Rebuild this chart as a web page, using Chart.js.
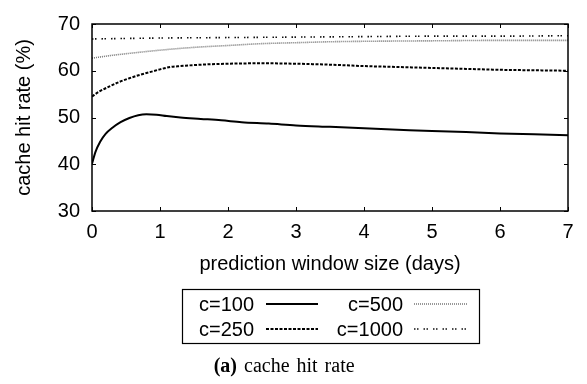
<!DOCTYPE html>
<html><head><meta charset="utf-8">
<script src="https://cdn.jsdelivr.net/npm/chart.js@4.4.1/dist/chart.umd.min.js"></script>
<style>
html,body{margin:0;padding:0;background:#fff;}
#wrap{position:relative;width:587px;height:384px;}
canvas{position:absolute;left:0;top:0;}
</style></head>
<body><div id="wrap"><canvas id="c" width="587" height="384"></canvas></div>
<script>
const xTicks = [0,1,2,3,4,5,6,7];
const yTicks = [30,40,50,60,70];
const labels = ["c=100","c=250","c=500","c=1000"];
const c100 = [[0,40.1],[0.05,42.6],[0.12,44.8],[0.2,46.5],[0.3,47.8],[0.42,49],[0.55,49.9],[0.68,50.5],[0.8,50.7],[0.95,50.6],[1.1,50.3],[1.3,50.0],[1.6,49.7],[1.9,49.4],[2.2,49.0],[2.6,48.7],[3.0,48.3],[3.5,48.0],[4.0,47.7],[4.5,47.4],[5.0,47.1],[5.5,46.9],[6.0,46.6],[6.5,46.4],[7.0,46.2]];
const c250 = [[0,54.5],[0.1,55.5],[0.25,56.6],[0.4,57.6],[0.55,58.4],[0.7,59.1],[0.85,59.7],[1.0,60.3],[1.15,60.8],[1.3,61.0],[1.6,61.3],[2.0,61.5],[2.5,61.6],[3.0,61.5],[3.5,61.3],[4.0,61.0],[4.5,60.8],[5.0,60.6],[5.5,60.4],[6.0,60.2],[6.5,60.1],[7.0,60.0]];
const c500 = [[0,62.7],[0.3,63.3],[0.6,63.8],[1.0,64.4],[1.5,65.0],[2.0,65.4],[2.5,65.8],[3.0,66.0],[3.5,66.2],[4.0,66.3],[5.0,66.4],[6.0,66.5],[7.0,66.5]];
const c1000 = [[0,66.8],[1.0,67.0],[2.0,67.1],[3.0,67.2],[4.0,67.3],[5.0,67.4],[6.0,67.4],[7.0,67.5]];
const seriesData = [c100,c250,c500,c1000];
const caption = ["(a)", "cache", "hit", "rate"];
const styles = [
  {color:'#000', width:2, dash:[]},
  {color:'#000', width:2, dash:[3,1.5]},
  {color:'#777', width:1.6, dash:[1,1]},
  {color:'#111', width:1.6, dash:[1.5,1.5,1.5,5]}
];
const FONT = '"Liberation Sans", Arial, sans-serif';
const SERIF = '"Liberation Serif", "Times New Roman", serif';
const FS = 20;

const ticksPlugin = {
  id:'innerTicks',
  afterDraw(chart){
    const ctx = chart.ctx, a = chart.chartArea, xs = chart.scales.x, ys = chart.scales.y;
    ctx.save();
    ctx.strokeStyle = '#000'; ctx.lineWidth = 1;
    ctx.beginPath();
    xTicks.forEach(v=>{ const p = Math.round(xs.getPixelForValue(v))+0.5;
      ctx.moveTo(p,a.bottom); ctx.lineTo(p,a.bottom-4);
      ctx.moveTo(p,a.top); ctx.lineTo(p,a.top+4); });
    yTicks.forEach(v=>{ const p = Math.round(ys.getPixelForValue(v))+0.5;
      ctx.moveTo(a.left,p); ctx.lineTo(a.left+4,p);
      ctx.moveTo(a.right,p); ctx.lineTo(a.right-4,p); });
    ctx.stroke();
    ctx.lineWidth = 1.5;
    ctx.strokeRect(a.left, a.top, a.right-a.left, a.bottom-a.top);
    // legend
    const bx=182.5, by=289.5, bw=297, bh=54;
    ctx.lineWidth = 1.2;
    ctx.strokeRect(bx,by,bw,bh);
    ctx.font = FS+'px '+FONT; ctx.fillStyle='#000'; ctx.textBaseline='middle';
    const rows=[304,329];
    const entries=[
      {i:0, tx:254, row:0, lx:[266,318]},
      {i:1, tx:254, row:1, lx:[266,318]},
      {i:2, tx:403, row:0, lx:[414,468]},
      {i:3, tx:403, row:1, lx:[414,468]}
    ];
    entries.forEach(e=>{
      ctx.setLineDash([]);
      ctx.textAlign='right'; ctx.fillStyle='#000';
      ctx.fillText(labels[e.i], e.tx, rows[e.row]+1);
      const s = styles[e.i];
      ctx.beginPath(); ctx.setLineDash(s.dash); ctx.strokeStyle=s.color; ctx.lineWidth=s.width;
      ctx.moveTo(e.lx[0], rows[e.row]); ctx.lineTo(e.lx[1], rows[e.row]); ctx.stroke();
    });
    // caption
    ctx.setLineDash([]);
    ctx.textBaseline='alphabetic'; ctx.textAlign='left';
    ctx.font = 'bold 20px '+SERIF;
    const wa = ctx.measureText(caption[0]).width;
    const sp = 7;
    let x = 244;
    ctx.fillText(caption[0], x - sp - wa, 372);
    ctx.font = '20px '+SERIF;
    for (let k=1;k<caption.length;k++){
      ctx.fillText(caption[k], x, 372);
      x += ctx.measureText(caption[k]).width + sp;
    }
    ctx.restore();
  }
};

new Chart(document.getElementById('c'), {
  type:'line',
  data:{ datasets: seriesData.map((d,i)=>({
    label: labels[i],
    data: d.map(p=>({x:p[0],y:p[1]})),
    borderColor: styles[i].color, borderWidth: styles[i].width, borderDash: styles[i].dash,
    pointRadius:0, tension:0.4, cubicInterpolationMode:'monotone', fill:false
  }))},
  options:{
    responsive:false, animation:false, devicePixelRatio:1,
    layout:{padding:{left:0,right:19,top:11,bottom:108}},
    plugins:{legend:{display:false}, tooltip:{enabled:false}},
    scales:{
      x:{type:'linear', min:0, max:7,
        afterBuildTicks(s){ s.ticks = xTicks.map(v=>({value:v})); },
        afterFit(s){ s.height = 65; },
        grid:{display:false, drawTicks:false}, border:{display:false},
        ticks:{font:{family:FONT,size:FS}, color:'#000', padding:9, maxRotation:0},
        title:{display:true, text:'prediction window size (days)', font:{family:FONT,size:FS}, color:'#000', padding:{top:12,bottom:0}}
      },
      y:{type:'linear', min:30, max:70,
        afterBuildTicks(s){ s.ticks = yTicks.map(v=>({value:v})); },
        afterFit(s){ s.width = 92; },
        grid:{display:false, drawTicks:false}, border:{display:false},
        ticks:{font:{family:FONT,size:FS}, color:'#000', padding:12},
        title:{display:true, text:'cache hit rate (%)', font:{family:FONT,size:FS}, color:'#000', padding:{top:12,bottom:4}}
      }
    }
  },
  plugins:[ticksPlugin]
});
</script></body></html>
